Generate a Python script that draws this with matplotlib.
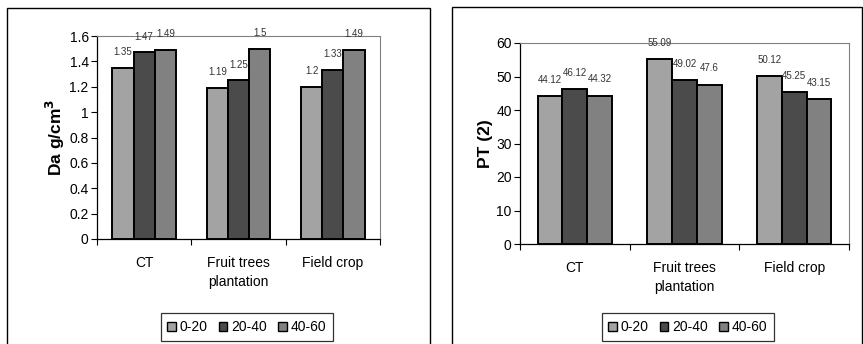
import matplotlib
matplotlib.use("Agg")
import matplotlib.pyplot as plt
from matplotlib.patches import Rectangle, Patch
import numpy as np

plt.rcParams['font.family'] = ['Liberation Sans', 'DejaVu Sans']

categories = ["CT", "Fruit trees\nplantation", "Field crop"]
depths = ["0-20", "20-40", "40-60"]

# bulk density, g/cm3
da_0_20 = [1.35, 1.19, 1.2]
da_20_40 = [1.47, 1.25, 1.33]
da_40_60 = [1.49, 1.5, 1.49]

# total porosity
pt_0_20 = [44.12, 55.09, 50.12]
pt_20_40 = [46.12, 49.02, 45.25]
pt_40_60 = [44.32, 47.6, 43.15]

COLORS = ['#a3a3a3', '#4b4b4b', '#818181']
W, H = 863, 344


def px_axes(fig, left, top, right, bottom):
    return fig.add_axes([left / W, (H - bottom) / H, (right - left) / W, (bottom - top) / H])


def draw_panel(ax, series, ylim, yticks, ylabel, label_off, fmt):
    x = np.arange(len(categories))
    bw = 0.225
    for i, vals in enumerate(series):
        xs = x + (i - 1) * bw
        ax.bar(xs, vals, bw, color=COLORS[i], edgecolor='black', linewidth=1.4, zorder=3)
        for xi, v in zip(xs, vals):
            ax.text(xi, v + label_off, fmt(v), ha='center', va='center',
                    fontsize=7, color='#333333', clip_on=False, zorder=4)
    ax.set_xlim(-0.5, len(categories) - 0.5)
    ax.set_ylim(*ylim)
    ax.set_yticks(yticks)
    ax.set_yticklabels([f"{t:g}" for t in yticks], fontsize=10)
    ax.set_ylabel(ylabel, fontsize=12.5, fontweight='bold', labelpad=2)
    # category labels centered, tick marks on the boundaries
    ax.set_xticks(x)
    ax.set_xticklabels(categories, fontsize=10, linespacing=1.45)
    ax.tick_params(axis='x', length=0, pad=12)
    ax.set_xticks(np.arange(-0.5, len(categories), 1.0), minor=True)
    ax.tick_params(axis='x', which='minor', length=4, width=0.8, direction='out')
    ax.tick_params(axis='y', length=4, width=0.8, direction='out', pad=2)
    for s in ['top', 'right']:
        ax.spines[s].set_color('#808080')
        ax.spines[s].set_linewidth(0.8)
    for s in ['left', 'bottom']:
        ax.spines[s].set_linewidth(0.9)


def legend_at(fig, cx, cy):
    handles = [Patch(facecolor=c, edgecolor='black', linewidth=1.0, label=d)
               for c, d in zip(COLORS, depths)]
    leg = fig.legend(handles=handles, loc='center', ncol=3,
                     bbox_to_anchor=(cx / W, (H - cy) / H), fontsize=10,
                     frameon=True, fancybox=False, handlelength=0.6, handleheight=0.6,
                     handletextpad=0.3, columnspacing=0.8, borderpad=0.5)
    leg.get_frame().set_edgecolor('black')
    leg.get_frame().set_linewidth(0.9)


fig = plt.figure(figsize=(W / 100, H / 100), dpi=100)

# outer chart frames
fig.patches.append(Rectangle((7 / W, -0.05), (430 - 7) / W, (H - 8) / H + 0.05,
                             transform=fig.transFigure, fill=False, edgecolor='black',
                             linewidth=1.0))
fig.patches.append(Rectangle((452 / W, -0.05), (862 - 452) / W, (H - 7) / H + 0.05,
                             transform=fig.transFigure, fill=False, edgecolor='black',
                             linewidth=1.0))

ax1 = px_axes(fig, 97, 36, 380, 239)
draw_panel(ax1, [da_0_20, da_20_40, da_40_60], (0, 1.6), np.arange(0, 1.61, 0.2),
           "Da g/cm$^\\mathbf{3}$", 0.125, lambda v: f"{v:g}")
legend_at(fig, 247, 327)

ax2 = px_axes(fig, 520, 43, 849, 244)
draw_panel(ax2, [pt_0_20, pt_20_40, pt_40_60], (0, 60), np.arange(0, 61, 10),
           "PT (2)", 4.8, lambda v: f"{v:g}")
legend_at(fig, 688, 327)

fig.savefig("out.png", dpi=100)
